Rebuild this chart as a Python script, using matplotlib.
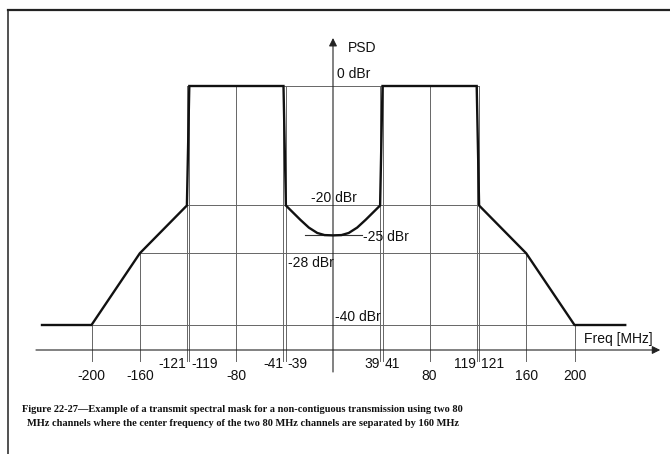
import numpy as np
import matplotlib
matplotlib.use('Agg')
import matplotlib.pyplot as plt
from matplotlib.lines import Line2D

# spectral mask (MHz, dBr)
mask_f = [-241, -200, -160, -121, -119, -41, -39, -33, -27, -20, -13, -7, 0,
          7, 13, 20, 27, 33, 39, 41, 119, 121, 160, 200, 242]
mask_db = [-40, -40, -28, -20, 0, 0, -20, -21.2, -22.4, -23.7, -24.6, -24.95, -25,
           -24.95, -24.6, -23.7, -22.4, -21.2, -20, 0, 0, -20, -28, -40, -40]

upper_ticks = [-121, -119, -41, -39, 39, 41, 119, 121]
lower_ticks = [-200, -160, -80, 80, 160, 200]
level_labels = ['0 dBr', '-20 dBr', '-25 dBr', '-28 dBr', '-40 dBr']

caption1 = ('Figure 22-27\u2014Example of a transmit spectral mask for a non-contiguous '
            'transmission using two 80')
caption2 = ('MHz channels where the center frequency of the two 80 MHz channels '
            'are separated by 160 MHz')

W, H = 670, 454
x0, sx = 333, 1.2075     # pixel of 0 MHz, px per MHz
y0, sy = 86, 5.975       # pixel of 0 dBr, px per dB

fig = plt.figure(figsize=(W / 100, H / 100), dpi=100)
ax = fig.add_axes([0, 0, 1, 1])
ax.set_xlim(-x0 / sx, (W - x0) / sx)
ax.set_ylim(-(H - y0) / sy, y0 / sy)
ax.axis('off')

thin = dict(color='#666666', lw=0.7, zorder=1)
axis_db = -(350 - y0) / sy
tick_low = -(361 - y0) / sy

# reference levels
ax.plot([-121, 121], [0, 0], **thin)
ax.plot([-121, 121], [-20, -20], **thin)
ax.plot([-160, 160], [-28, -28], **thin)
ax.plot([-241, 242], [-40, -40], **thin)
ax.plot([-23, 24], [-25, -25], color='#333333', lw=0.8, zorder=1)

# vertical guide lines
for f in upper_ticks + [-80, 80]:
    ax.plot([f, f], [0, tick_low], **thin)
for f in [-160, 160]:
    ax.plot([f, f], [-28, tick_low], **thin)
for f in [-200, 200]:
    ax.plot([f, f], [-40, tick_low], **thin)

# axes with arrows
ax.annotate('', xy=(271, axis_db), xytext=(-246, axis_db),
            arrowprops=dict(arrowstyle='-|>', color='#222222', lw=0.8,
                            mutation_scale=12, shrinkA=0, shrinkB=0))
ax.annotate('', xy=(0, -(38 - y0) / sy), xytext=(0, -(372 - y0) / sy),
            arrowprops=dict(arrowstyle='-|>', color='#222222', lw=0.8,
                            mutation_scale=12, shrinkA=0, shrinkB=0))

# the mask
ax.plot(mask_f, mask_db, color='#111111', lw=1.7, zorder=3, solid_joinstyle='miter')

tfont = dict(family=['Liberation Sans', 'DejaVu Sans'], fontsize=10, color='#111111')

# tick labels
for f in upper_ticks:
    if f in (-121, -41, 39, 119):
        ax.text(f - 0.5, -46.6, str(f), ha='right', va='center', **tfont)
    else:
        ax.text(f + 1.5, -46.6, str(f), ha='left', va='center', **tfont)
for f in lower_ticks:
    ax.text(f, -48.6, str(f), ha='center', va='center', **tfont)

# level labels
ax.text(3, 2.0, level_labels[0], ha='left', va='center', **tfont)
ax.text(-18, -18.8, level_labels[1], ha='left', va='center', **tfont)
ax.text(25, -25.2, level_labels[2], ha='left', va='center', **tfont)
ax.text(-37.5, -29.6, level_labels[3], ha='left', va='center', **tfont)
ax.text(1.5, -38.6, level_labels[4], ha='left', va='center', **tfont)
ax.text(12, 6.4, 'PSD', ha='left', va='center', **tfont)
ax.text(208, -42.4, 'Freq [MHz]', ha='left', va='center', **tfont)

# caption
cfont = dict(family=['Liberation Serif', 'DejaVu Serif'], fontsize=7.5,
             fontweight='bold', color='#111111')
fig.text(242 / W, 1 - 409 / H, caption1, ha='center', va='center', **cfont)
fig.text(243 / W, 1 - 424 / H, caption2, ha='center', va='center', **cfont)

# frame around the figure
fig.add_artist(Line2D([8 / W, 8 / W], [0, 1 - 9.5 / H], color='#333333', lw=1.2,
                      transform=fig.transFigure))
fig.add_artist(Line2D([7.5 / W, 1], [1 - 9.5 / H, 1 - 9.5 / H], color='#222222', lw=1.6,
                      transform=fig.transFigure))

fig.savefig('out.png', dpi=100)
